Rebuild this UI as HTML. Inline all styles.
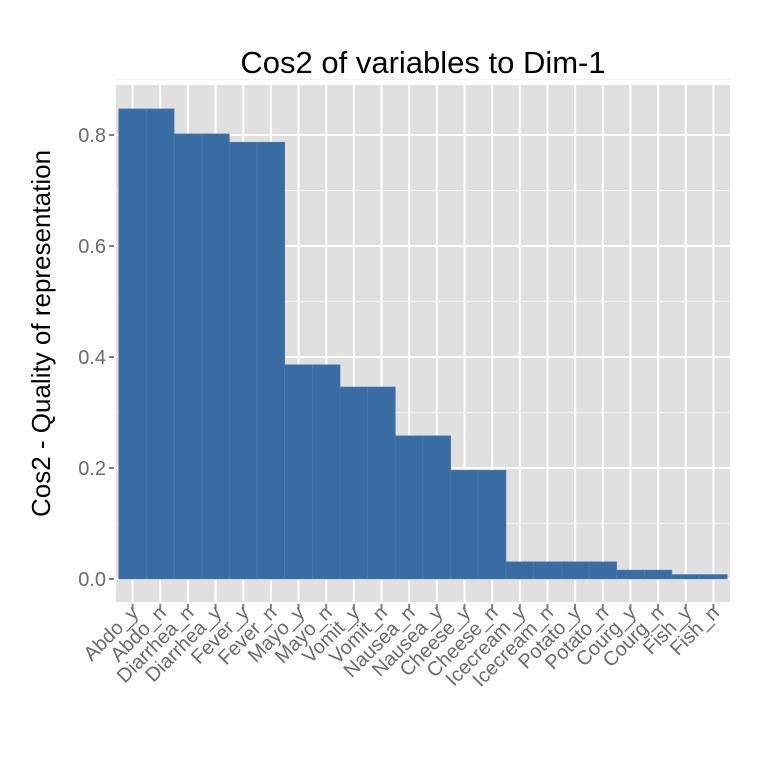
<!DOCTYPE html>
<html><head><meta charset="utf-8"><style>body{margin:0;background:#fff}svg{display:block;font-family:"Liberation Sans",Arial,sans-serif}</style></head>
<body>
<svg id="c" width="768" height="768"></svg>
<script>
const categories=["Abdo_y","Abdo_n","Diarrhea_n","Diarrhea_y","Fever_y","Fever_n","Mayo_y","Mayo_n","Vomit_y","Vomit_n","Nausea_n","Nausea_y","Cheese_y","Cheese_n","Icecream_y","Icecream_n","Potato_y","Potato_n","Courg_y","Courg_n","Fish_y","Fish_n"];
const values=[0.847,0.847,0.802,0.802,0.787,0.787,0.386,0.386,0.346,0.346,0.258,0.258,0.196,0.196,0.031,0.031,0.031,0.031,0.016,0.016,0.008,0.008];
const yTicks=[0,0.2,0.4,0.6,0.8];
const yTickLabels=["0.0","0.2","0.4","0.6","0.8"];
const NS="http://www.w3.org/2000/svg";
const svg=document.getElementById('c');
const L=116,R=730,T=85,B=602;
const y0=579,yk=555;
const ys=v=>y0-v*yk;
const bw=(R-L)/(categories.length-1+1.2);
const xs=i=>L+bw*(0.6+i);
function mk(t,a,p){const e=document.createElementNS(NS,t);for(const k in a)e.setAttribute(k,a[k]);(p||svg).appendChild(e);return e;}
const panel=mk('rect',{x:L,y:T,width:R-L,height:B-T,fill:'#e0e0e0'});


for(let v=0.1;v<0.9;v+=0.2){const g=mk('line',{x1:L,x2:R,y1:ys(v),y2:ys(v),stroke:'#f0f0f0','stroke-width':1});

}
yTicks.forEach((v,i)=>{const g=mk('line',{x1:L,x2:R,y1:ys(v),y2:ys(v),stroke:'#fff','stroke-width':2});


const tk=mk('line',{x1:L-7,x2:L-2,y1:ys(v),y2:ys(v),stroke:'#7f7f7f','stroke-width':2});


const t=mk('text',{x:L-10,y:ys(v)+7,'text-anchor':'end','font-size':20,fill:'#6b6b6b'});t.textContent=yTickLabels[i];

});
categories.forEach((c,i)=>{const g=mk('line',{x1:xs(i),x2:xs(i),y1:T,y2:B,stroke:'#fff','stroke-width':2});

});
categories.forEach((c,i)=>{const b=mk('rect',{x:xs(i)-bw/2,y:ys(values[i]),width:bw,height:y0-ys(values[i]),fill:'#386ca3',stroke:'#4a7bb0','stroke-width':0.6});


const tk=mk('line',{x1:xs(i),x2:xs(i),y1:B+2,y2:B+7,stroke:'#7f7f7f','stroke-width':2});


const t=mk('text',{x:xs(i)+7,y:B+12,'text-anchor':'end','font-size':20,fill:'#6b6b6b',transform:`rotate(-45 ${xs(i)+7} ${B+12})`});t.textContent=c;

});
const ti=mk('text',{x:(L+R)/2,y:73,'text-anchor':'middle','font-size':31,fill:'#000'});ti.textContent='Cos2 of variables to Dim-1';


const yt=mk('text',{x:50,y:(T+B)/2-10,'text-anchor':'middle','font-size':26,fill:'#000',transform:`rotate(-90 50 ${(T+B)/2-10})`});yt.textContent='Cos2 - Quality of representation';


</script>
</body></html>
